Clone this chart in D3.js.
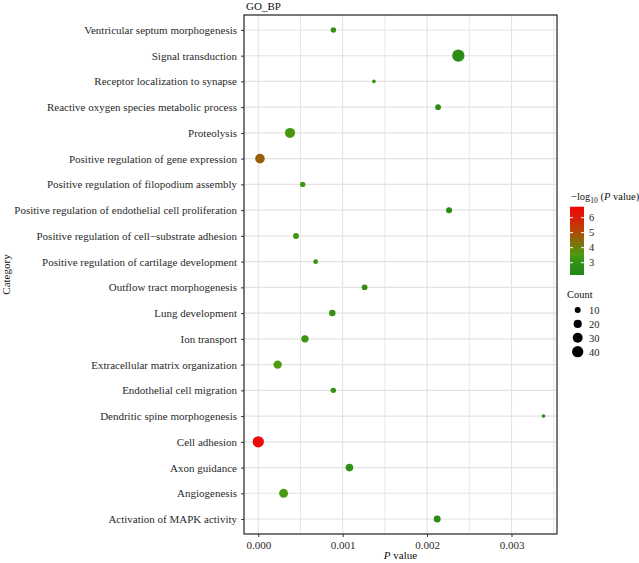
<!DOCTYPE html>
<html>
<head>
<meta charset="utf-8">
<script src="https://cdn.jsdelivr.net/npm/d3@7"></script>
<style>
  html, body { margin: 0; padding: 0; background: #fff; }
  svg { display: block; font-family: "Liberation Serif", "DejaVu Serif", serif; }
</style>
</head>
<body>
<svg id="chart" width="639" height="563"></svg>
<script>
// ---- data (top-to-bottom order) ----
const categories = [
  "Ventricular septum morphogenesis",
  "Signal transduction",
  "Receptor localization to synapse",
  "Reactive oxygen species metabolic process",
  "Proteolysis",
  "Positive regulation of gene expression",
  "Positive regulation of filopodium assembly",
  "Positive regulation of endothelial cell proliferation",
  "Positive regulation of cell\u2212substrate adhesion",
  "Positive regulation of cartilage development",
  "Outflow tract morphogenesis",
  "Lung development",
  "Ion transport",
  "Extracellular matrix organization",
  "Endothelial cell migration",
  "Dendritic spine morphogenesis",
  "Cell adhesion",
  "Axon guidance",
  "Angiogenesis",
  "Activation of MAPK activity"
];
const pValues = [
  0.00089, 0.00237, 0.00137, 0.00213, 0.000376,
  0.00002, 0.000526, 0.00226, 0.000447, 0.00068,
  0.00126, 0.000877, 0.000553, 0.00023, 0.000889,
  0.00338, 0.0000002, 0.00108, 0.0003, 0.00212
];
const counts = [
  8, 48, 3, 9, 31,
  28, 8, 10, 10, 6,
  9, 12, 16, 21, 8,
  3, 40, 17, 24, 14
];
const xTicks = [0, 0.001, 0.002, 0.003];
const xMinorTicks = [0.0005, 0.0015, 0.0025, 0.0035];
const colorTicks = [3, 4, 5, 6];
const sizeBreaks = [10, 20, 30, 40];

const data = categories.map((c, i) => ({
  cat: c, p: pValues[i], count: counts[i], lp: -Math.log10(pValues[i])
}));

// ---- layout ----
const svg = d3.select("#chart");
const panel = { left: 244, right: 557, top: 15, bottom: 534 };

const x = d3.scaleLinear().domain([-0.000169, 0.003539]).range([panel.left, panel.right]);
const y = d3.scalePoint().domain(categories).range([panel.top, panel.bottom]).padding(0.58);
const colorDomain = [2.18, 6.73];
const colorStops = [2.18, 3.0, 3.6, 4.1, 4.6, 5.1, 5.6, 6.1, 6.73];
const colorRange = ["#23881a", "#319014", "#4e9c10", "#737a0c", "#946208", "#b24806", "#ca3006", "#dd1a08", "#ee0a0a"];
const color = d3.scaleLinear().domain(colorStops).range(colorRange)
  .interpolate(d3.interpolateRgb).clamp(true);
const size = d3.scaleSqrt().domain([3, 48]).range([1.8, 6.15]);

// gridlines
const grid = svg.append("g");
grid.selectAll("line.minor").data(xMinorTicks).join("line")
  .attr("x1", d => x(d)).attr("x2", d => x(d))
  .attr("y1", panel.top).attr("y2", panel.bottom)
  .attr("stroke", "#e8e8e8").attr("stroke-width", 1);
grid.selectAll("line.majx").data(xTicks).join("line")
  .attr("x1", d => x(d)).attr("x2", d => x(d))
  .attr("y1", panel.top).attr("y2", panel.bottom)
  .attr("stroke", "#e3e3e3").attr("stroke-width", 1.1);
grid.selectAll("line.majy").data(categories).join("line")
  .attr("x1", panel.left).attr("x2", panel.right)
  .attr("y1", d => y(d)).attr("y2", d => y(d))
  .attr("stroke", "#e3e3e3").attr("stroke-width", 1.1);

// points
svg.append("g").selectAll("circle").data(data).join("circle")
  .attr("cx", d => x(d.p)).attr("cy", d => y(d.cat))
  .attr("r", d => size(d.count))
  .attr("fill", d => color(d.lp));

// panel border
svg.append("rect")
  .attr("x", panel.left).attr("y", panel.top)
  .attr("width", panel.right - panel.left).attr("height", panel.bottom - panel.top)
  .attr("fill", "none").attr("stroke", "#333").attr("stroke-width", 1.3);

// axes
const xAxis = d3.axisBottom(x).tickValues(xTicks).tickFormat(d3.format(".3f")).tickSize(3).tickPadding(4);
const gx = svg.append("g").attr("transform", `translate(0,${panel.bottom})`).call(xAxis);
gx.select(".domain").remove();
gx.selectAll("line").attr("stroke", "#333");
gx.selectAll("text").attr("fill", "#2a2a2a").attr("font-size", 11)
  .attr("font-family", "Liberation Serif, serif");

const yAxis = d3.axisLeft(y).tickSize(3).tickPadding(4);
const gy = svg.append("g").attr("transform", `translate(${panel.left},0)`).call(yAxis);
gy.select(".domain").remove();
gy.selectAll("line").attr("stroke", "#333");
gy.selectAll("text").attr("fill", "#2a2a2a").attr("font-size", 11)
  .attr("font-family", "Liberation Serif, serif");

// titles
svg.append("text").attr("x", 246).attr("y", 10).attr("font-size", 11).attr("fill", "#111").text("GO_BP");

const xl = svg.append("text").attr("x", (panel.left + panel.right) / 2).attr("y", 559)
  .attr("text-anchor", "middle").attr("font-size", 11).attr("fill", "#111");
xl.append("tspan").attr("font-style", "italic").text("P");
xl.append("tspan").text(" value");

svg.append("text").attr("transform", `translate(10,${(panel.top + panel.bottom) / 2}) rotate(-90)`)
  .attr("text-anchor", "middle").attr("font-size", 11).attr("fill", "#111").text("Category");

// ---- colour legend ----
const cb = { x: 570, y0: 206.7, y1: 275, w: 14 };
const defs = svg.append("defs");
const grad = defs.append("linearGradient").attr("id", "cgrad")
  .attr("x1", 0).attr("y1", 1).attr("x2", 0).attr("y2", 0);
d3.range(0, 1.0001, 0.05).forEach(t => {
  grad.append("stop").attr("offset", t)
    .attr("stop-color", color(colorDomain[0] + t * (colorDomain[1] - colorDomain[0])));
});
const cy = d3.scaleLinear().domain(colorDomain).range([cb.y1, cb.y0]);

const lt = svg.append("text").attr("x", 571).attr("y", 200).attr("font-size", 10.5).attr("fill", "#111");
lt.append("tspan").text("\u2212log");
lt.append("tspan").attr("font-size", 7.5).attr("dy", 2.5).text("10");
lt.append("tspan").attr("dy", -2.5).text(" (");
lt.append("tspan").attr("font-style", "italic").text("P");
lt.append("tspan").text(" value)");

svg.append("rect").attr("x", cb.x).attr("y", cb.y0).attr("width", cb.w).attr("height", cb.y1 - cb.y0)
  .attr("fill", "url(#cgrad)");
const ctk = svg.append("g");
ctk.selectAll("line.l").data(colorTicks).join("line")
  .attr("x1", cb.x).attr("x2", cb.x + 3).attr("y1", d => cy(d)).attr("y2", d => cy(d))
  .attr("stroke", "#fff").attr("stroke-width", 1);
ctk.selectAll("line.r").data(colorTicks).join("line")
  .attr("x1", cb.x + cb.w - 3).attr("x2", cb.x + cb.w).attr("y1", d => cy(d)).attr("y2", d => cy(d))
  .attr("stroke", "#fff").attr("stroke-width", 1);
ctk.selectAll("text").data(colorTicks).join("text")
  .attr("x", 589).attr("y", d => cy(d) + 3.8).attr("font-size", 10.5).attr("fill", "#222")
  .text(d => d);

// ---- size legend ----
svg.append("text").attr("x", 567).attr("y", 298).attr("font-size", 10.5).attr("fill", "#111").text("Count");
const sy = d3.scalePoint().domain(sizeBreaks).range([310, 351.7]);
const sg = svg.append("g");
sg.selectAll("circle").data(sizeBreaks).join("circle")
  .attr("cx", 577.7).attr("cy", d => sy(d)).attr("r", d => size(d)).attr("fill", "#000");
sg.selectAll("text").data(sizeBreaks).join("text")
  .attr("x", 589).attr("y", d => sy(d) + 3.8).attr("font-size", 10.5).attr("fill", "#222")
  .text(d => d);
</script>
</body>
</html>
